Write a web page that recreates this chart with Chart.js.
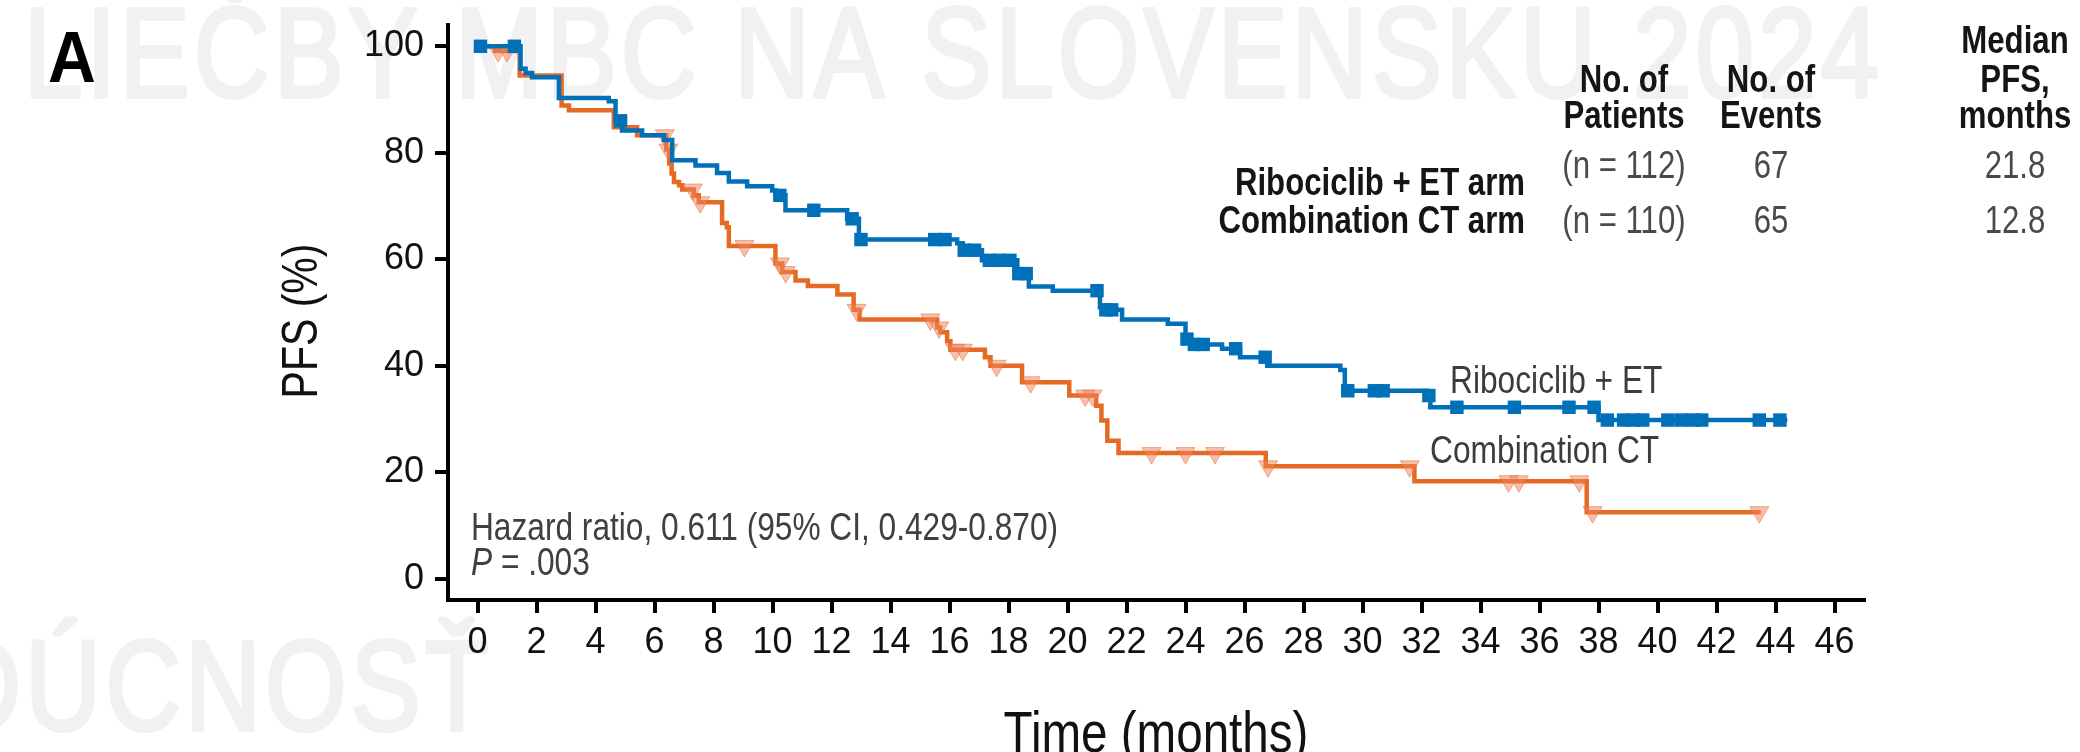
<!DOCTYPE html>
<html>
<head>
<meta charset="utf-8">
<script src="https://cdn.jsdelivr.net/npm/chart.js@4.4.1/dist/chart.umd.min.js"></script>
<style>
  html, body { margin: 0; padding: 0; background: #fff; overflow: hidden; }
  canvas { display: block; }
</style>
</head>
<body>
<canvas id="km" width="2080" height="752"></canvas>
<script>
// KM curves, PFS by arm

// Ribociclib + ET arm: step times (months) and PFS (%) after each step
const ribTime = [0, 1.46, 1.63, 1.85, 2.76, 4.45, 4.68, 4.9, 5.58, 6.32, 6.6, 7.39, 8.12, 8.52, 9.14,
  9.99, 10.1, 10.44, 12.53, 12.93, 16.26, 16.45, 17.1, 18.3, 18.69, 19.5, 21.1, 21.3, 21.85, 23.4,
  24.0, 24.2, 25.24, 25.85, 26.77, 29.25, 29.4, 32.2, 32.3, 38.0, 44.4];
const ribSurv = [100, 95.8, 95.0, 94.2, 90.3, 89.7, 86.0, 84.2, 83.3, 82.4, 78.6, 77.6, 76.2, 74.6, 73.7,
  72.9, 72.0, 69.2, 67.6, 63.7, 63.0, 61.7, 59.8, 57.3, 54.9, 54.1, 51.0, 50.5, 48.7, 47.9,
  45.0, 44.0, 43.2, 41.6, 40.0, 39.2, 35.3, 34.4, 32.2, 29.8, 29.8];
const ribCensor = [0.1, 1.25, 4.85, 10.25, 11.4, 12.7, 13.0, 15.5, 15.85, 16.5, 16.85, 17.35, 17.7, 18.05,
  18.35, 18.6, 21.0, 21.3, 21.5, 24.05, 24.3, 24.6, 25.7, 26.7, 29.5, 30.4, 30.7, 32.25, 33.2, 35.15,
  37.0, 37.85, 38.3, 38.85, 39.2, 39.5, 40.35, 40.8, 41.2, 41.5, 43.45, 44.15];

// Combination CT arm
const ctTime = [0, 0.6, 1.43, 2.85, 3.1, 4.62, 5.41, 6.40, 6.50, 6.58, 6.66, 6.83, 6.94, 7.33, 7.50,
  8.29, 8.45, 8.52, 10.1, 10.33, 10.78, 11.2, 12.2, 12.75, 12.95, 15.58, 15.69, 15.92, 16.03, 17.2,
  17.39, 18.46, 20.06, 20.97, 21.15, 21.35, 21.73, 26.72, 31.76, 37.6, 43.5];
const ctSurv = [100, 99.1, 94.5, 88.9, 88.0, 84.8, 83.3, 80.6, 78.0, 76.1, 74.5, 73.9, 73.1, 72.0, 70.7,
  66.8, 66.0, 62.5, 59.2, 57.6, 56.0, 55.0, 53.4, 50.5, 48.7, 47.2, 46.3, 44.6, 43.0, 41.6,
  40.0, 36.9, 34.4, 32.5, 29.7, 25.9, 23.6, 21.1, 18.3, 12.5, 12.5];
const ctCensor = [0.7, 1.0, 6.35, 6.47, 7.3, 7.55, 9.05, 10.25, 10.45, 12.85, 15.35, 15.65, 16.2, 16.45,
  17.6, 18.75, 20.6, 20.85, 22.85, 24.0, 25.0, 26.8, 31.6, 34.95, 35.3, 37.35, 37.8, 43.45];

const xTickValues = [0, 2, 4, 6, 8, 10, 12, 14, 16, 18, 20, 22, 24, 26, 28, 30, 32, 34, 36, 38, 40, 42, 44, 46];
const yTickValues = [0, 20, 40, 60, 80, 100];

// table in the top right
const tableHead = [['No. of', 'Patients'], ['No. of', 'Events'], ['Median', 'PFS,', 'months']];
const tableArms = ['Ribociclib + ET arm', 'Combination CT arm'];
const tablePatients = ['(n = 112)', '(n = 110)'];
const tableEvents = ['67', '65'];
const tableMedian = ['21.8', '12.8'];

const BLUE = '#0070b9';
const ORANGE = '#e66a24';
const SANS = '"Liberation Sans", Arial, sans-serif';
const NX = 0.82;   // no narrow face installed: squeeze the normal one

// helpers
function pts(times, surv){ return times.map((t, i) => ({x: t, y: surv[i]})); }
function survAt(times, surv, t){
  let s = surv[0];
  for(let i = 0; i < times.length; i++){ if(times[i] <= t) s = surv[i]; }
  return s;
}
function censorPts(list, times, surv){ return list.map(t => ({x: t, y: survAt(times, surv, t)})); }

// draw text squeezed horizontally by sx (optional stroke to thicken)
function stxt(ctx, s, x, y, font, color, align, sx, stroke){
  sx = sx || NX;
  ctx.save();
  ctx.font = font; ctx.fillStyle = color;
  ctx.textAlign = 'left'; ctx.textBaseline = 'alphabetic';
  const w = ctx.measureText(s).width * sx;
  let x0 = x;
  if(align === 'center') x0 = x - w / 2;
  else if(align === 'right') x0 = x - w;
  ctx.translate(x0, y); ctx.scale(sx, 1);
  ctx.fillText(s, 0, 0);
  if(stroke){ ctx.strokeStyle = color; ctx.lineWidth = stroke; ctx.lineJoin = 'round'; ctx.strokeText(s, 0, 0); }
  ctx.restore();
  return w;
}

// faint watermark behind everything
const watermark = {
  id: 'watermark',
  beforeDraw(chart){
    const ctx = chart.ctx;
    ctx.save();
    ctx.fillStyle = '#fff'; ctx.fillRect(0, 0, chart.width, chart.height);
    ctx.letterSpacing = '5px';
    stxt(ctx, 'LIEČBY MBC NA SLOVENSKU 2024', 24, 97, '128px ' + SANS, '#f1f1f1', 'left', NX, 4);
    stxt(ctx, 'BUDÚCNOSŤ', 493, 730, '128px ' + SANS, '#f1f1f1', 'right', NX, 4);
    ctx.letterSpacing = '0px';
    ctx.restore();
  }
};

// panel letter, axis titles, table and annotations
const labels = {
  id: 'labels',
  afterDraw(chart){
    const ctx = chart.ctx;
    stxt(ctx, 'A', 48, 82, 'bold 72px ' + SANS, '#000', 'left', 0.92);

    // axis titles
    stxt(ctx, 'Time (months)', 1156, 752, '58px ' + SANS, '#111', 'center');
    ctx.save();
    ctx.translate(317, 321); ctx.rotate(-Math.PI / 2);
    stxt(ctx, 'PFS (%)', 0, 0, '50px ' + SANS, '#111', 'center');
    ctx.restore();

    const bold = 'bold 38px ' + SANS, reg = '38px ' + SANS;
    const colX = [1624, 1771, 2015];
    const dark = '#151515', grey = '#4a4a4a';
    stxt(ctx, tableHead[0][0], colX[0], 92, bold, dark, 'center');
    stxt(ctx, tableHead[0][1], colX[0], 128, bold, dark, 'center');
    stxt(ctx, tableHead[1][0], colX[1], 92, bold, dark, 'center');
    stxt(ctx, tableHead[1][1], colX[1], 128, bold, dark, 'center');
    stxt(ctx, tableHead[2][0], colX[2], 53, bold, dark, 'center');
    stxt(ctx, tableHead[2][1], colX[2], 92, bold, dark, 'center');
    stxt(ctx, tableHead[2][2], colX[2], 128, bold, dark, 'center');

    const rowY = [178, 233], armY = [195, 233];
    for(let i = 0; i < 2; i++){
      stxt(ctx, tableArms[i], 1525, armY[i], bold, dark, 'right');
      stxt(ctx, tablePatients[i], colX[0], rowY[i], reg, grey, 'center');
      stxt(ctx, tableEvents[i], colX[1], rowY[i], reg, grey, 'center');
      stxt(ctx, tableMedian[i], colX[2], rowY[i], reg, grey, 'center');
    }

    stxt(ctx, 'Ribociclib + ET', 1450, 393, reg, '#3c3c3c', 'left', 0.835);
    stxt(ctx, 'Combination CT', 1430, 463, reg, '#3c3c3c', 'left', 0.835);

    stxt(ctx, 'Hazard ratio, 0.611 (95% CI, 0.429-0.870)', 471, 540, reg, '#404040', 'left', 0.833);
    const pw = stxt(ctx, 'P', 471, 575, 'italic 38px ' + SANS, '#404040', 'left', 0.833);
    stxt(ctx, ' = .003', 471 + pw, 575, reg, '#404040', 'left', 0.833);
  }
};

const ctx = document.getElementById('km').getContext('2d');
new Chart(ctx, {
  type: 'scatter',
  data: {
    datasets: [
      { label: 'Ribociclib + ET censored', data: censorPts(ribCensor, ribTime, ribSurv),
        pointStyle: 'rect', pointRadius: 9.5, backgroundColor: BLUE, borderWidth: 0, order: 0 },
      { label: 'Ribociclib + ET', data: pts(ribTime, ribSurv), showLine: true, stepped: 'before',
        borderColor: BLUE, borderWidth: 4.5, pointRadius: 0, fill: false, order: 1 },
      { label: 'Combination CT censored', data: censorPts(ctCensor, ctTime, ctSurv),
        pointStyle: 'triangle', rotation: 180, pointRadius: 11,
        backgroundColor: 'rgba(238,130,92,0.5)', borderColor: 'rgba(230,106,36,0.5)', borderWidth: 1, order: 2 },
      { label: 'Combination CT', data: pts(ctTime, ctSurv), showLine: true, stepped: 'before',
        borderColor: ORANGE, borderWidth: 4.5, pointRadius: 0, fill: false, order: 3 }
    ]
  },
  options: {
    responsive: false,
    animation: false,
    events: [],
    layout: { padding: { left: 0, right: 216, top: 25, bottom: 0 } },
    plugins: { legend: { display: false }, tooltip: { enabled: false } },
    scales: {
      x: {
        type: 'linear', min: -1, max: 47,
        afterBuildTicks: s => { s.ticks = xTickValues.map(v => ({value: v})); },
        afterFit: s => { s.height = 152; },
        grid: { display: true, drawOnChartArea: false, drawTicks: true, tickLength: 13, color: '#000', lineWidth: 4 },
        border: { display: true, color: '#000', width: 4 },
        ticks: { autoSkip: false, maxRotation: 0, padding: 8, color: '#111', font: { family: SANS, size: 36 } }
      },
      y: {
        type: 'linear', min: -4, max: 104,
        afterBuildTicks: s => { s.ticks = yTickValues.map(v => ({value: v})); },
        afterFit: s => { s.width = 448; },
        grid: { display: true, drawOnChartArea: false, drawTicks: true, tickLength: 13, color: '#000', lineWidth: 4 },
        border: { display: true, color: '#000', width: 4 },
        ticks: { padding: 11, color: '#111', font: { family: SANS, size: 36, lineHeight: 0.7 } }
      }
    }
  },
  plugins: [watermark, labels]
});
</script>
</body>
</html>
